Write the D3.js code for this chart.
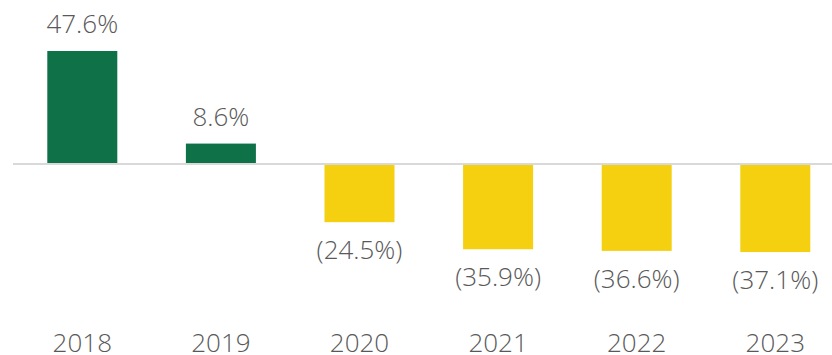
<!DOCTYPE html>
<html>
<head>
<meta charset="utf-8">
<script src="https://cdn.jsdelivr.net/npm/d3@7"></script>
<style>
  html, body { margin: 0; padding: 0; background: #fff; }
  svg { display: block; }
  text { font-family: "Open Sans", "Noto Sans", sans-serif; font-weight: 300; fill: #595959; }
</style>
</head>
<body>
<svg id="chart" width="832" height="355"></svg>
<script>
// Year-over-year change, percent
const years = ["2018", "2019", "2020", "2021", "2022", "2023"];
const changes = [47.6, 8.6, -24.5, -35.9, -36.6, -37.1];
const positiveColor = "#0e7148";
const negativeColor = "#f4d010";

const svg = d3.select("#chart");
const width = 832;

const x = d3.scaleBand().domain(years).range([13, 844.6]).padding(0);
const y = d3.scaleLinear().domain([-50, 50]).range([282.7, 45.3]);
const barW = 70;

const data = years.map((yr, i) => ({ year: yr, value: changes[i] }));

// bars
svg.append("g").selectAll("rect").data(data).join("rect")
  .attr("x", d => x(d.year) + x.bandwidth() / 2 - barW / 2)
  .attr("width", barW)
  .attr("y", d => Math.min(y(d.value), y(0)))
  .attr("height", d => Math.abs(y(d.value) - y(0)))
  .attr("fill", d => d.value >= 0 ? positiveColor : negativeColor);

// zero baseline
svg.append("line")
  .attr("x1", 13).attr("x2", width)
  .attr("y1", y(0)).attr("y2", y(0))
  .attr("stroke", "#d9d9d9").attr("stroke-width", 2);

// value labels
const fmt = v => v >= 0 ? d3.format(".1f")(v) + "%" : "(" + d3.format(".1f")(-v) + "%)";
svg.append("g").selectAll("text").data(data).join("text")
  .attr("x", d => x(d.year) + x.bandwidth() / 2)
  .attr("y", d => d.value >= 0 ? y(d.value) - 18 : y(d.value) + 37)
  .attr("text-anchor", "middle")
  .attr("font-size", 26)
  .text(d => fmt(d.value));

// category axis labels
svg.append("g").selectAll("text").data(years).join("text")
  .attr("x", d => x(d) + x.bandwidth() / 2)
  .attr("y", 352)
  .attr("text-anchor", "middle")
  .attr("font-size", 26)
  .text(d => d);
</script>
</body>
</html>
